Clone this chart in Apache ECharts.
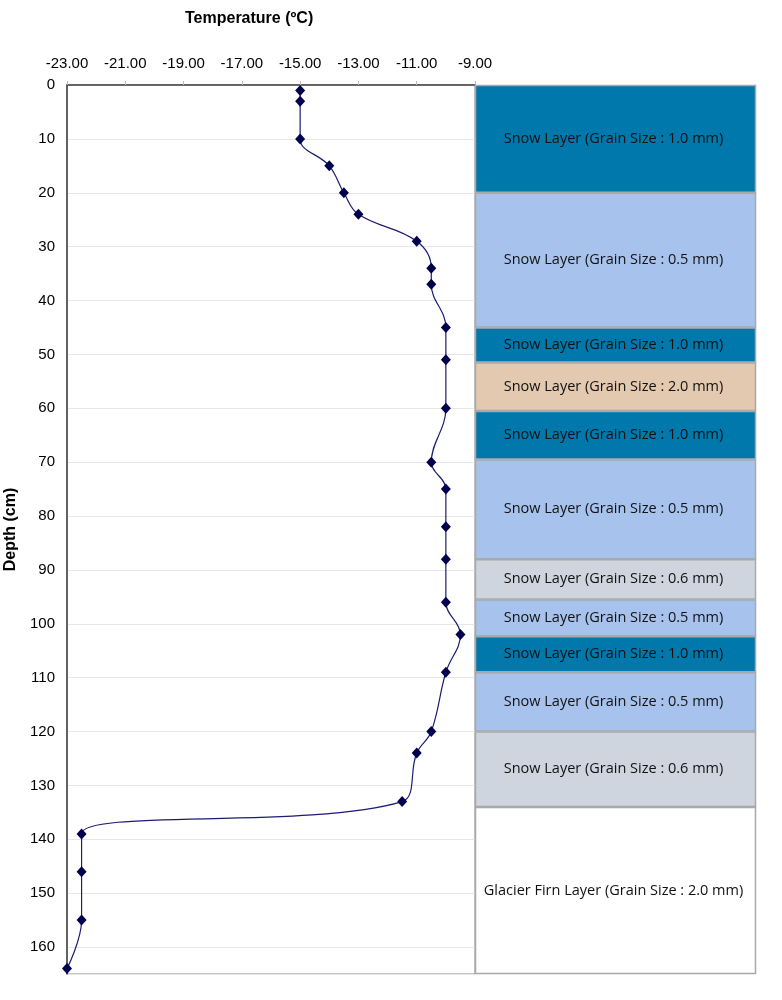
<!DOCTYPE html>
<html>
<head>
<meta charset="utf-8">
<script src="https://cdn.jsdelivr.net/npm/echarts@6/dist/echarts.min.js"></script>
<style>
html,body{margin:0;padding:0;background:#fff;}
#chart{width:782px;height:1000px;}
</style>
</head>
<body>
<div id="chart"></div>
<script>
// ---- data ----
const depths = [1, 3, 10, 15, 20, 24, 29, 34, 37, 45, 51, 60, 70, 75, 82, 88, 96, 102, 109, 120, 124, 133, 139, 146, 155, 164];
const temps  = [-15, -15, -15, -14, -13.5, -13, -11, -10.5, -10.5, -10, -10, -10, -10.5, -10, -10, -10, -10, -9.5, -10, -10.5, -11, -11.5, -22.5, -22.5, -22.5, -23];
const tempTicks = [-23, -21, -19, -17, -15, -13, -11, -9];
const layerTops    = [0, 20, 45, 51.5, 60.5, 69.5, 88, 95.5, 102.3, 109, 120, 134];
const layerBottoms = [20, 45, 51.5, 60.5, 69.5, 88, 95.5, 102.3, 109, 120, 134, 165];
const layerNames   = ['Snow Layer', 'Snow Layer', 'Snow Layer', 'Snow Layer', 'Snow Layer', 'Snow Layer', 'Snow Layer', 'Snow Layer', 'Snow Layer', 'Snow Layer', 'Snow Layer', 'Glacier Firn Layer'];
const layerGrain   = ['1.0', '0.5', '1.0', '2.0', '1.0', '0.5', '0.6', '0.5', '1.0', '0.5', '0.6', '2.0'];

// ---- styles ----
const grainColor = {'1.0': '#0178ac', '0.5': '#a7c3ed', '2.0': '#e3c9af', '0.6': '#cfd5de'};
const firnColor = '#ffffff';

const points = depths.map((d, i) => [temps[i], d]);
const layers = layerTops.map((t, i) => [0, t, layerBottoms[i], i]);

const chart = echarts.init(document.getElementById('chart'));
chart.setOption({
  backgroundColor: '#ffffff',
  animation: false,
  graphic: [{
    type: 'text', left: 251 - 66, top: 11,
    style: {text: 'Temperature (ºC)', font: 'bold 16px "Liberation Sans", Arial, sans-serif', fill: '#000'}
  }],
  grid: [
    {left: 67, top: 85, width: 408, height: 889, show: true, borderColor: '#8a8a8a', borderWidth: 1, containLabel: false, outerBoundsMode: 'none'},
    {left: 475, top: 85, width: 281, height: 889, containLabel: false, outerBoundsMode: 'none'}
  ],
  xAxis: [{
    type: 'value', gridIndex: 0, position: 'top', min: -23, max: -9, interval: 2,
    axisLine: {show: true, lineStyle: {color: '#404040', width: 1.5}},
    axisTick: {show: true, length: 4, lineStyle: {color: '#bbbbbb'}},
    splitLine: {show: false},
    axisLabel: {margin: 14, color: '#000', fontSize: 15, fontFamily: '"Liberation Sans", Arial, sans-serif',
      formatter: v => tempTicks.includes(v) ? v.toFixed(2) : ''}
  }, {
    type: 'value', gridIndex: 1, min: 0, max: 1, show: false
  }],
  yAxis: [{
    type: 'value', gridIndex: 0, inverse: true, min: 0, max: 165, interval: 10,
    name: 'Depth (cm)', nameLocation: 'middle', nameGap: 45, nameRotate: 90,
    nameTextStyle: {fontWeight: 'bold', fontSize: 16, color: '#000', fontFamily: '"Liberation Sans", Arial, sans-serif'},
    axisLine: {show: true, lineStyle: {color: '#404040', width: 1.5}},
    axisTick: {show: false},
    splitLine: {show: true, lineStyle: {color: '#e6e6e6', width: 1}},
    axisLabel: {margin: 12, color: '#000', fontSize: 15, fontFamily: '"Liberation Sans", Arial, sans-serif', showMaxLabel: false}
  }, {
    type: 'value', gridIndex: 1, inverse: true, min: 0, max: 165, show: false
  }],
  series: [{
    type: 'line', xAxisIndex: 0, yAxisIndex: 0, data: points,
    smooth: 0.4,
    symbol: 'diamond', symbolSize: [10, 11],
    lineStyle: {color: '#1c1c70', width: 1.2},
    itemStyle: {color: '#00004d'}
  }, {
    type: 'custom', xAxisIndex: 1, yAxisIndex: 1, data: layers,
    encode: {x: 0, y: [1, 2]},
    renderItem: function (params, api) {
      const i = api.value(3);
      const p0 = api.coord([0, api.value(1)]);
      const p1 = api.coord([1, api.value(2)]);
      const isFirn = layerNames[i] !== 'Snow Layer';
      const fill = isFirn ? firnColor : grainColor[layerGrain[i]];
      const label = layerNames[i] + ' (Grain Size : ' + layerGrain[i] + ' mm)';
      return {
        type: 'group',
        children: [{
          type: 'rect',
          shape: {x: p0[0] + 0.5, y: p0[1] + 0.5, width: p1[0] - p0[0] - 1, height: p1[1] - p0[1] - 1},
          style: {fill: fill, stroke: '#a9a9a9', lineWidth: 1.5}
        }, {
          type: 'text',
          x: (p0[0] + p1[0]) / 2 - 2, y: (p0[1] + p1[1]) / 2,
          style: {text: label, fill: '#111', font: '14.5px "Open Sans", "Noto Sans", sans-serif', align: 'center', verticalAlign: 'middle'}
        }]
      };
    }
  }]
});
</script>
</body>
</html>
